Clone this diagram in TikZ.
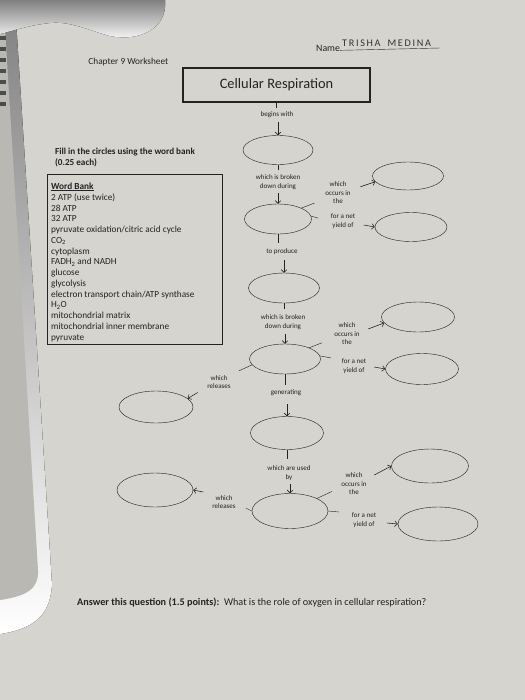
\documentclass[tikz,border=0pt]{standalone}
\usepackage{fontspec}
\setmainfont{Carlito}
\usetikzlibrary{shapes.geometric,arrows.meta,calc}

\definecolor{paper}{RGB}{214,212,206}
\definecolor{binder}{RGB}{186,184,178}
\definecolor{shade}{RGB}{88,86,83}
\definecolor{ink}{RGB}{35,35,35}

\tikzset{
    oval/.style={draw=ink, semithick, ellipse, inner sep=0pt},
    lbl/.style={font=\fontsize{10}{12}\selectfont, align=center, text=ink, inner sep=1pt},
    bankitem/.style={anchor=base west, font=\fontsize{13.2}{16}\selectfont, text=ink, inner sep=0pt},
    stub/.style={draw=ink, semithick},
    arr/.style={draw=ink, thick, -{Straight Barb[length=4pt,width=8pt]}},
}

\begin{document}
\begin{tikzpicture}[x=0.05cm, y=-0.05cm]

    % page and photo background
        \fill[paper] (0,0) rectangle (525,700);
        \useasboundingbox (0,0) rectangle (525,700);
        % shadow round the object on the left
        \fill[shade] (0,0) -- (16,20) -- (52,585) .. controls (50,610) and (40,628) .. (0,634) -- cycle;
        \fill[binder] (0,28) -- (5,28) -- (38,570) .. controls (39,588) and (28,596) .. (0,600) -- cycle;
        \foreach \k in {0,...,6}
            \fill[black!70] (0,{36+11*\k}) rectangle (6,{40+11*\k});
        % shadow at the top
        \fill[shade] (0,0) -- (165,0) .. controls (168,28) and (140,42) .. (110,36)
            .. controls (88,30) and (70,21) .. (50,23) .. controls (30,25) and (12,31) .. (0,34) -- cycle;

    % header
        \node[anchor=west, font=\fontsize{13.2}{15}\selectfont, text=ink] (chap) at (86,62) {Chapter 9 Worksheet};
        \node[anchor=west, font=\fontsize{14}{16}\selectfont, text=ink, inner sep=0pt] (name) at (316,48) {Name};
        \node[anchor=west, font=\fontsize{14.5}{16}\selectfont, text=black!80, inner sep=0pt] (who) at (342,43)
            {T\,R\,I\,S\,H\,A\ \ \ M\,E\,D\,I\,N\,A};
        \draw[black!80, semithick] (name.south east) ++(0,-1) -- (440,48);

        \node[draw=ink, line width=1.6pt, minimum width=187*0.05cm, minimum height=34*0.05cm,
              font=\fontsize{20.5}{24}\selectfont, text=ink] (title) at (276.5,85) {Cellular Respiration};

    % instructions and word bank
        \node[anchor=west, align=left, font=\fontsize{13}{15.6}\bfseries, text=ink, inner sep=0pt] (fill) at (55,157.5)
            {Fill in the circles using the word bank\\(0.25 each)};

        \draw[ink, semithick] (47,174) rectangle (222,344);
        \foreach \w [count=\k from 0] in {{\underline{\textbf{Word Bank}}}, {2 ATP (use twice)}, {28 ATP}, {32 ATP},
                {pyruvate oxidation/citric acid cycle}, {CO\textsubscript{2}}, {cytoplasm},
                {FADH\textsubscript{2} and NADH}, {glucose}, {glycolysis},
                {electron transport chain/ATP synthase}, {H\textsubscript{2}O}, {mitochondrial matrix},
                {mitochondrial inner membrane}, {pyruvate}}
            \node[bankitem] (w\k) at (51,{189.5+10.75*\k}) {\w};

    % ovals: name, centre, width, height (px)
        \def\mkOval#1#2#3#4{\node[oval, minimum width=#3*0.05cm, minimum height=#4*0.05cm] (#1) at (#2) {};}

        \mkOval{e1}{278,150}{70}{29}
        \mkOval{e2}{278,219}{67}{30}
        \mkOval{e3}{408,176}{71}{28}
        \mkOval{e4}{411,227}{72}{29}
        \mkOval{e5}{284,288}{71}{30}
        \mkOval{e6}{285,359}{71}{30}
        \mkOval{e7}{418,317}{73}{30}
        \mkOval{e8}{422,369}{73}{31}
        \mkOval{e9}{156,407}{74}{32}
        \mkOval{e10}{287,433}{73}{33}
        \mkOval{e11}{290,511}{76}{35}
        \mkOval{e12}{430,466}{77}{34}
        \mkOval{e13}{438,524}{80}{34}
        \mkOval{e14}{155,490}{76}{34}

    % labels
        \node[lbl] (bw)  at (277,115) {begins with};
        \node[lbl] (bd1) at (278,182) {which is broken\\down during};
        \node[lbl] (oc1) at (338,193) {which\\occurs in\\the};
        \node[lbl] (ny1) at (343,221) {for a net\\yield of};
        \node[lbl] (tp)  at (282,252) {to produce};
        \node[lbl] (bd2) at (283,322) {which is broken\\down during};
        \node[lbl] (oc2) at (347,334) {which\\occurs in\\the};
        \node[lbl] (ny2) at (354,366) {for a net\\yield of};
        \node[lbl] (rl1) at (219,382) {which\\releases};
        \node[lbl] (gen) at (286,393) {generating};
        \node[lbl] (ub)  at (289,473) {which are used\\by};
        \node[lbl] (oc3) at (354,484) {which\\occurs in\\the};
        \node[lbl] (ny3) at (364,520) {for a net\\yield of};
        \node[lbl] (rl2) at (224,502) {which\\releases};

    % stubs leaving the ovals
        \draw[stub] (title.south) -- ++(0,5);
        \draw[stub] (e1.south) -- ++(0,5);
        \draw[stub] (e2.25) -- ++(13,-5);
        \draw[stub] (e2.5) -- ++(7,2);
        \draw[stub] (e2.south) -- ++(0,9);
        \draw[stub] (e5.south) -- ++(0,6);
        \draw[stub] (e6.25) -- ++(13,-5);
        \draw[stub] (e6.5) -- ++(11,2);
        \draw[stub] (e6.190) -- ++(-13,6);
        \draw[stub] (e6.south) -- ++(0,11);
        \draw[stub] (e10.south) -- ++(0,9);
        \draw[stub] (e11.25) -- ++(15,-7);
        \draw[stub] (e11.east) -- ++(11,1);
        \draw[stub] (e11.west) -- ++(-6,-3);

    % arrows into the ovals
        \draw[arr] ($(e1.north)+(0,-13)$) -- (e1.north);
        \draw[arr] ($(e2.north)+(0,-11)$) -- (e2.north);
        \draw[arr] ($(e3.190)+(-15,5)$) -- (e3.190);
        \draw[arr] ($(e4.west)+(-11,-2)$) -- (e4.west);
        \draw[arr] ($(e5.north)+(0,-13)$) -- (e5.north);
        \draw[arr] ($(e6.north)+(0,-10)$) -- (e6.north);
        \draw[arr] ($(e7.190)+(-16,6)$) -- (e7.190);
        \draw[arr] ($(e8.west)+(-11,-2)$) -- (e8.west);
        \draw[arr] ($(e9.15)+(10,-6)$) -- (e9.15);
        \draw[arr] ($(e10.north)+(0,-12)$) -- (e10.north);
        \draw[arr] ($(e11.north)+(0,-9)$) -- (e11.north);
        \draw[arr] ($(e12.west)+(-17,9)$) -- (e12.west);
        \draw[arr] ($(e13.west)+(-11,-1)$) -- (e13.west);
        \draw[arr] ($(e14.east)+(10,2)$) -- (e14.east);

    % question
        \node[anchor=west, font=\fontsize{14.5}{17}\selectfont, text=ink, inner sep=0pt] (quest) at (77,603)
            {\textbf{Answer this question (1.5 points):}\ \ What is the role of oxygen in cellular respiration?};

\end{tikzpicture}
\end{document}
